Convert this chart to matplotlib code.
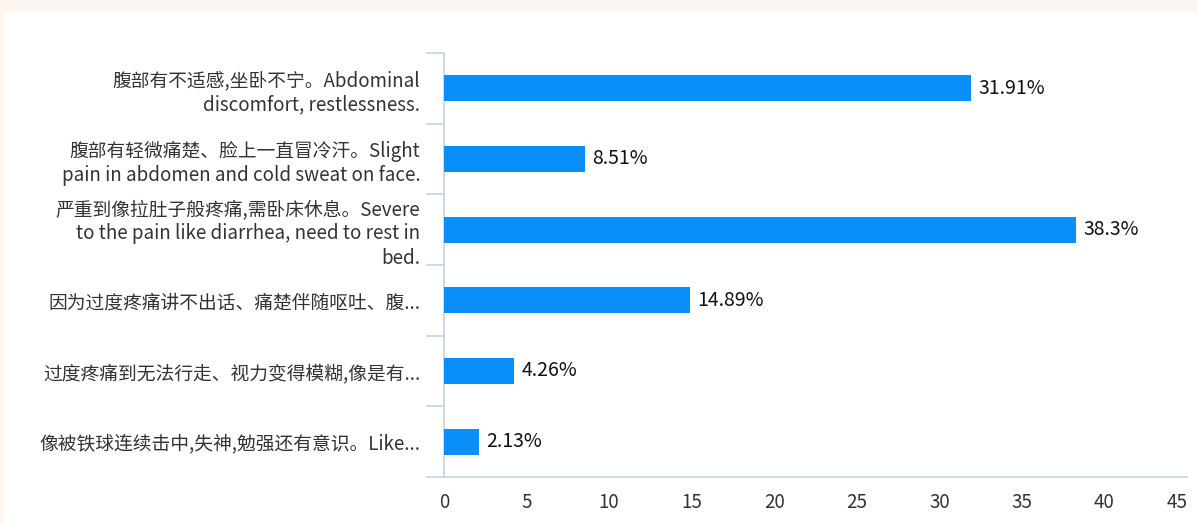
import matplotlib
matplotlib.use("Agg")
import matplotlib.pyplot as plt
from matplotlib.patches import Rectangle
from matplotlib.ticker import FixedLocator
import matplotlib.transforms as mtransforms

plt.rcParams['font.family'] = ['Noto Sans CJK SC', 'DejaVu Sans']

categories = [
    "腹部有不适感,坐卧不宁。Abdominal\ndiscomfort, restlessness.",
    "腹部有轻微痛楚、脸上一直冒冷汗。Slight\npain in abdomen and cold sweat on face.",
    "严重到像拉肚子般疼痛,需卧床休息。Severe\nto the pain like diarrhea, need to rest in\nbed.",
    "因为过度疼痛讲不出话、痛楚伴随呕吐、腹...",
    "过度疼痛到无法行走、视力变得模糊,像是有...",
    "像被铁球连续击中,失神,勉强还有意识。Like...",
]
values = [31.91, 8.51, 38.3, 14.89, 4.26, 2.13]
value_labels = ["31.91%", "8.51%", "38.3%", "14.89%", "4.26%", "2.13%"]
xticks = [0, 5, 10, 15, 20, 25, 30, 35, 40, 45]

W, H = 1198, 524
fig = plt.figure(figsize=(W / 100, H / 100), dpi=100, facecolor='#fdf5ef')
bg = Rectangle((4 / W, 0), 1 - 4 / W, (H - 12) / H,
               transform=fig.transFigure, facecolor='white',
               edgecolor='none', zorder=-10)
fig.add_artist(bg)

ax = fig.add_axes([444 / W, 1 - 477 / H, (1187 - 444) / W, (477 - 53) / H])
ax.set_zorder(5)
ax.set_facecolor('none')

axis_color = '#c5d1e5'
bar_color = '#0a8ef7'
text_color = '#333333'

ypos = list(range(len(categories)))
ax.barh(ypos, values, height=0.37, color=bar_color, zorder=3)

for y, v, lab in zip(ypos, values, value_labels):
    ax.text(v + 0.45, y, lab, va='center', ha='left', fontsize=14,
            color='#111111', zorder=4)

ax.set_xlim(0, 45)
ax.set_ylim(len(categories) - 0.5, -0.5)
ax.set_xticks(xticks)
ax.set_xticklabels([str(t) for t in xticks], fontsize=13.5, color=text_color)
ax.tick_params(axis='x', length=0, pad=11)
last = ax.get_xticklabels()[-1]
last.set_transform(last.get_transform() +
                   mtransforms.ScaledTranslation(-10 / 100, 0, fig.dpi_scale_trans))

ax.set_yticks(ypos)
ax.set_yticklabels(categories, fontsize=13.5, color=text_color,
                   linespacing=1.22, ha='right')
ax.tick_params(axis='y', which='major', length=0, pad=17)
ax.yaxis.set_minor_locator(FixedLocator([i - 0.5 for i in range(len(categories) + 1)]))
ax.tick_params(axis='y', which='minor', length=13, color=axis_color, width=1.2)

for s in ['top', 'right']:
    ax.spines[s].set_visible(False)
for s in ['left', 'bottom']:
    ax.spines[s].set_color(axis_color)
    ax.spines[s].set_linewidth(1.2)

fig.savefig('out.png', dpi=100, facecolor=fig.get_facecolor())
